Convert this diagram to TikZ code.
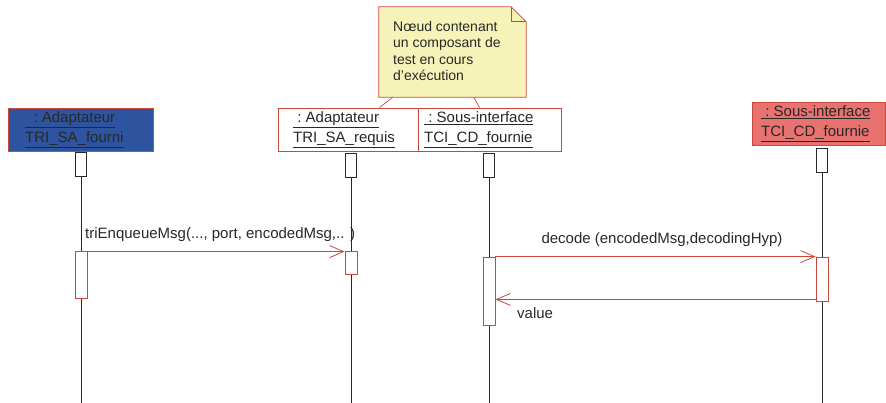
\documentclass[tikz,border=0pt]{standalone}
\usepackage{fontspec}
\setmainfont{Liberation Sans}
\usetikzlibrary{arrows.meta,calc}
\definecolor{umlred}{RGB}{200,72,60}
\definecolor{objblue}{RGB}{46,84,160}
\definecolor{objpink}{RGB}{232,114,112}
\definecolor{noteyellow}{RGB}{246,243,184}
\definecolor{inkgray}{RGB}{40,40,40}
\tikzset{
  objbox/.style={draw=umlred, line width=0.9pt, inner sep=0pt},
  objtext/.style={anchor=west, inner sep=0pt, align=left,
    font=\fontsize{15}{20}\selectfont, text=inkgray},
  headbox/.style={draw=inkgray, fill=white, line width=0.7pt, inner sep=0pt,
    minimum width=11pt, minimum height=24pt},
  actbox/.style={draw=umlred, fill=white, line width=0.8pt, inner sep=0pt,
    minimum width=12pt},
  lifeline/.style={draw=inkgray, line width=0.7pt},
  msg/.style={draw=umlred, line width=0.8pt,
    -{Straight Barb[length=14pt,width=12pt,line width=0.8pt]}},
  msglabel/.style={font=\fontsize{15}{18}\selectfont, text=inkgray, inner sep=0pt},
  notelink/.style={draw=umlred, line width=0.7pt},
}
\newcommand{\ul}[1]{\underline{#1}}
\begin{document}
\begin{tikzpicture}[x=1pt,y=-1pt]
\useasboundingbox (0,0) rectangle (886,403);

% object heads
\node[objbox, fill=objblue, minimum width=145pt, minimum height=43pt] (o1) at (80.5,129.5) {};
\node[objbox, fill=white, minimum width=140pt, minimum height=43pt] (o2) at (348,129.5) {};
\node[objbox, fill=white, minimum width=143pt, minimum height=43pt] (o3) at (489.5,129.5) {};
\node[objbox, fill=objpink, minimum width=133pt, minimum height=43pt] (o4) at (818.5,123.5) {};
\node[objtext] (t1) at (25,129.5) {\ul{\ \ :\ Adaptateur}\\\ul{TRI\_SA\_fourni}};
\node[objtext] (t2) at (293,129.5) {\ul{\ :\ Adaptateur}\\\ul{TRI\_SA\_requis}};
\node[objtext] (t3) at (424,129.5) {\ul{\ :\ Sous-interface}\\\ul{TCI\_CD\_fournie}};
\node[objtext] (t4) at (761,123.5) {\ul{\ :\ Sous-interface}\\\ul{TCI\_CD\_fournie}};

% lifelines with their small head boxes
\node[headbox] (h1) at (81,164) {};
\node[headbox] (h2) at (351,165) {};
\node[headbox] (h3) at (489,165) {};
\node[headbox] (h4) at (822,160) {};
\coordinate (e1) at (81,403);
\coordinate (e2) at (351,403);
\coordinate (e3) at (489,403);
\coordinate (e4) at (822,403);
\path[lifeline] (h1.south) -- (e1);
\path[lifeline] (h2.south) -- (e2);
\path[lifeline] (h3.south) -- (e3);
\path[lifeline] (h4.south) -- (e4);

% activation bars
\node[actbox, minimum height=47pt] (a1) at (81,274.5) {};
\node[actbox, minimum height=23pt] (a2) at (351,262.5) {};
\node[actbox, minimum height=68pt] (a3) at (489,291) {};
\node[actbox, minimum height=44pt] (a4) at (822,279) {};

% messages
\draw[msg] ($(a1.north east)+(0,1)$) -- ($(a2.north west)+(0,1)$);
\node[msglabel, anchor=base west] (m1) at (85,239) {triEnqueueMsg(..., port, encodedMsg,.. )};
\draw[msg] (a3.north east) -- (a4.north west);
\node[msglabel, anchor=base] (m2) at (662,244) {decode (encodedMsg,decodingHyp)};
\draw[msg] ($(a4.south west)+(0,-2)$) -- ($(a3.east |- a4.south)+(0,-2)$);
\node[msglabel, anchor=base west] (m3) at (517,319) {value};

% note
\node[inner sep=0pt, minimum width=147pt, minimum height=90pt] (note) at (452.5,52) {};
\path[draw=umlred, fill=noteyellow, line width=0.8pt]
  (note.south west) -- (note.north west) -- ($(note.north east)+(-15,0)$)
  -- ($(note.north east)+(0,15)$) -- (note.south east) -- cycle;
\path[draw=umlred, line width=0.8pt]
  ($(note.north east)+(-15,0)$) -- ($(note.north east)+(-15,15)$) -- ($(note.north east)+(0,15)$);
\node[anchor=north west, align=left, inner sep=0pt, text=inkgray,
  font=\fontsize{14}{16.5}\selectfont] (notetext) at (393,21)
  {Nœud contenant\\un composant de\\test en cours\\d'exécution};
\draw[notelink] ($(note.south west)+(14,0)$) -- ($(o2.north west)+(102,0)$);
\draw[notelink] ($(note.south west)+(95,0)$) -- ($(o3.north west)+(62,0)$);
\end{tikzpicture}
\end{document}
